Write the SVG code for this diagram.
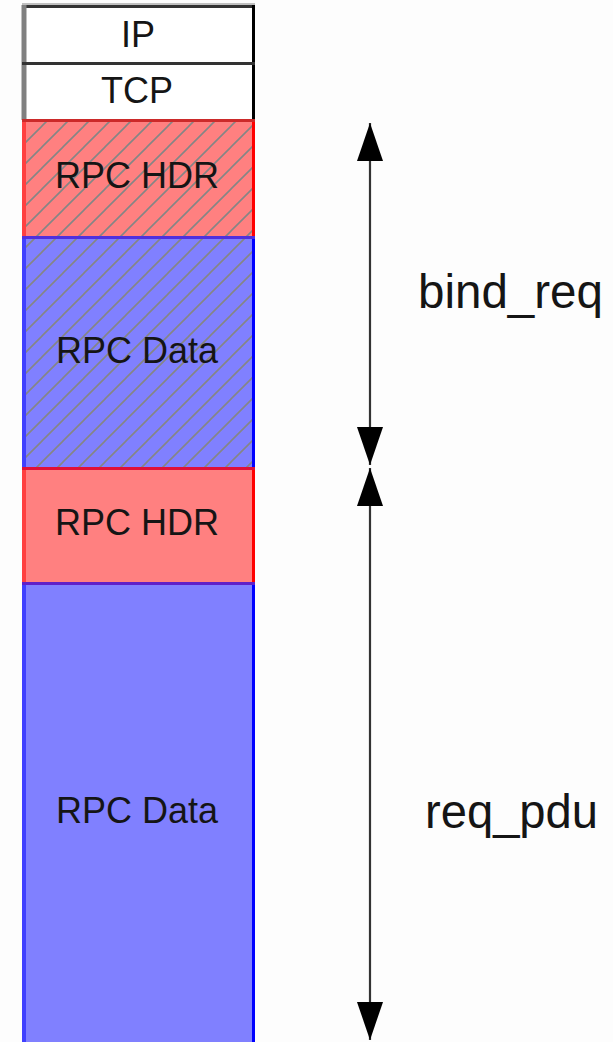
<svg xmlns="http://www.w3.org/2000/svg" width="613" height="1042" viewBox="0 0 613 1042">
<style>
.t{font-family:"Liberation Sans",Arial,sans-serif;font-size:36px;fill:#151515;text-anchor:middle}
.lbl{font-family:"Liberation Sans",Arial,sans-serif;font-size:48px;fill:#151515}
.red{fill:#ff8080}
.blue{fill:#8080ff}
.white{fill:#ffffff}
.conn{stroke:#333333;stroke-width:2.2;fill:none;marker-start:url(#ah);marker-end:url(#ah)}
</style>
<defs>
<pattern id="hatch" patternUnits="userSpaceOnUse" width="21" height="21">
<path d="M-2,2 L2,-2 M0,21 L21,0 M19,23 L23,19" stroke="#858585" stroke-width="1.6"/>
</pattern>
<marker id="ah" markerUnits="userSpaceOnUse" markerWidth="38" markerHeight="26" viewBox="0 0 38 26" refX="38" refY="13" orient="auto-start-reverse">
<path d="M0,0 L38,13 L0,26 z" fill="#000000"/>
</marker>
</defs>
<rect x="0" y="0" width="613" height="1042" fill="#fdfdfd"/>
<g id="ip">
<rect class="white" x="22" y="5" width="233" height="58"/>
<line x1="22" y1="4" x2="255" y2="4" stroke="#c0c0c0" stroke-width="2"/>
<line x1="22" y1="6.5" x2="255" y2="6.5" stroke="#333333" stroke-width="3"/>
<line x1="24" y1="5" x2="24" y2="63" stroke="#808080" stroke-width="5"/>
<line x1="253.5" y1="5" x2="253.5" y2="63" stroke="#000000" stroke-width="3"/>
<text class="t" x="138" y="47" font-size="38">IP</text>
</g>
<g id="tcp">
<rect class="white" x="22" y="63" width="233" height="57"/>
<line x1="24" y1="63" x2="24" y2="120" stroke="#808080" stroke-width="5"/>
<line x1="253.5" y1="63" x2="253.5" y2="120" stroke="#000000" stroke-width="3"/>
<line x1="22" y1="63.5" x2="255" y2="63.5" stroke="#333333" stroke-width="3"/>
<text class="t" x="137" y="103" font-size="38">TCP</text>
</g>
<g id="hdr1">
<rect class="red" x="22" y="120" width="233" height="117"/>
<rect fill="url(#hatch)" x="22" y="120" width="233" height="117"/>
<line x1="24" y1="120" x2="24" y2="237" stroke="#ff4040" stroke-width="4"/>
<line x1="253.5" y1="120" x2="253.5" y2="237" stroke="#ff0000" stroke-width="3"/>
<line x1="22" y1="120.5" x2="255" y2="120.5" stroke="#cc2a2a" stroke-width="3"/>
<text class="t" x="137" y="188">RPC HDR</text>
</g>
<g id="data1">
<rect class="blue" x="22" y="237" width="233" height="231"/>
<rect fill="url(#hatch)" x="22" y="237" width="233" height="231"/>
<line x1="24" y1="237" x2="24" y2="468" stroke="#4040ff" stroke-width="4"/>
<line x1="253.5" y1="237" x2="253.5" y2="468" stroke="#0000ff" stroke-width="3"/>
<line x1="22" y1="237.5" x2="255" y2="237.5" stroke="#5030dd" stroke-width="3"/>
<text class="t" x="137" y="363">RPC Data</text>
</g>
<g id="hdr2">
<rect class="red" x="22" y="468" width="233" height="115"/>
<line x1="24" y1="468" x2="24" y2="583" stroke="#ff4040" stroke-width="4"/>
<line x1="253.5" y1="468" x2="253.5" y2="583" stroke="#ff0000" stroke-width="3"/>
<line x1="22" y1="468.5" x2="255" y2="468.5" stroke="#e01038" stroke-width="3"/>
<text class="t" x="137" y="535">RPC HDR</text>
</g>
<g id="data2">
<rect class="blue" x="22" y="583" width="233" height="459"/>
<line x1="24" y1="583" x2="24" y2="1042" stroke="#4040ff" stroke-width="4"/>
<line x1="253.5" y1="583" x2="253.5" y2="1042" stroke="#0000ff" stroke-width="3"/>
<line x1="22" y1="583.5" x2="255" y2="583.5" stroke="#6020c8" stroke-width="3"/>
<text class="t" x="137" y="823">RPC Data</text>
</g>
<g id="connectors">
<line class="conn" x1="370" y1="123" x2="370" y2="465"/>
<line class="conn" x1="370" y1="468" x2="370" y2="1040"/>
</g>
<g id="labels">
<text class="lbl" x="418" y="308" textLength="185" lengthAdjust="spacingAndGlyphs">bind_req</text>
<text class="lbl" x="425" y="828" textLength="173" lengthAdjust="spacingAndGlyphs">req_pdu</text>
</g>
</svg>
